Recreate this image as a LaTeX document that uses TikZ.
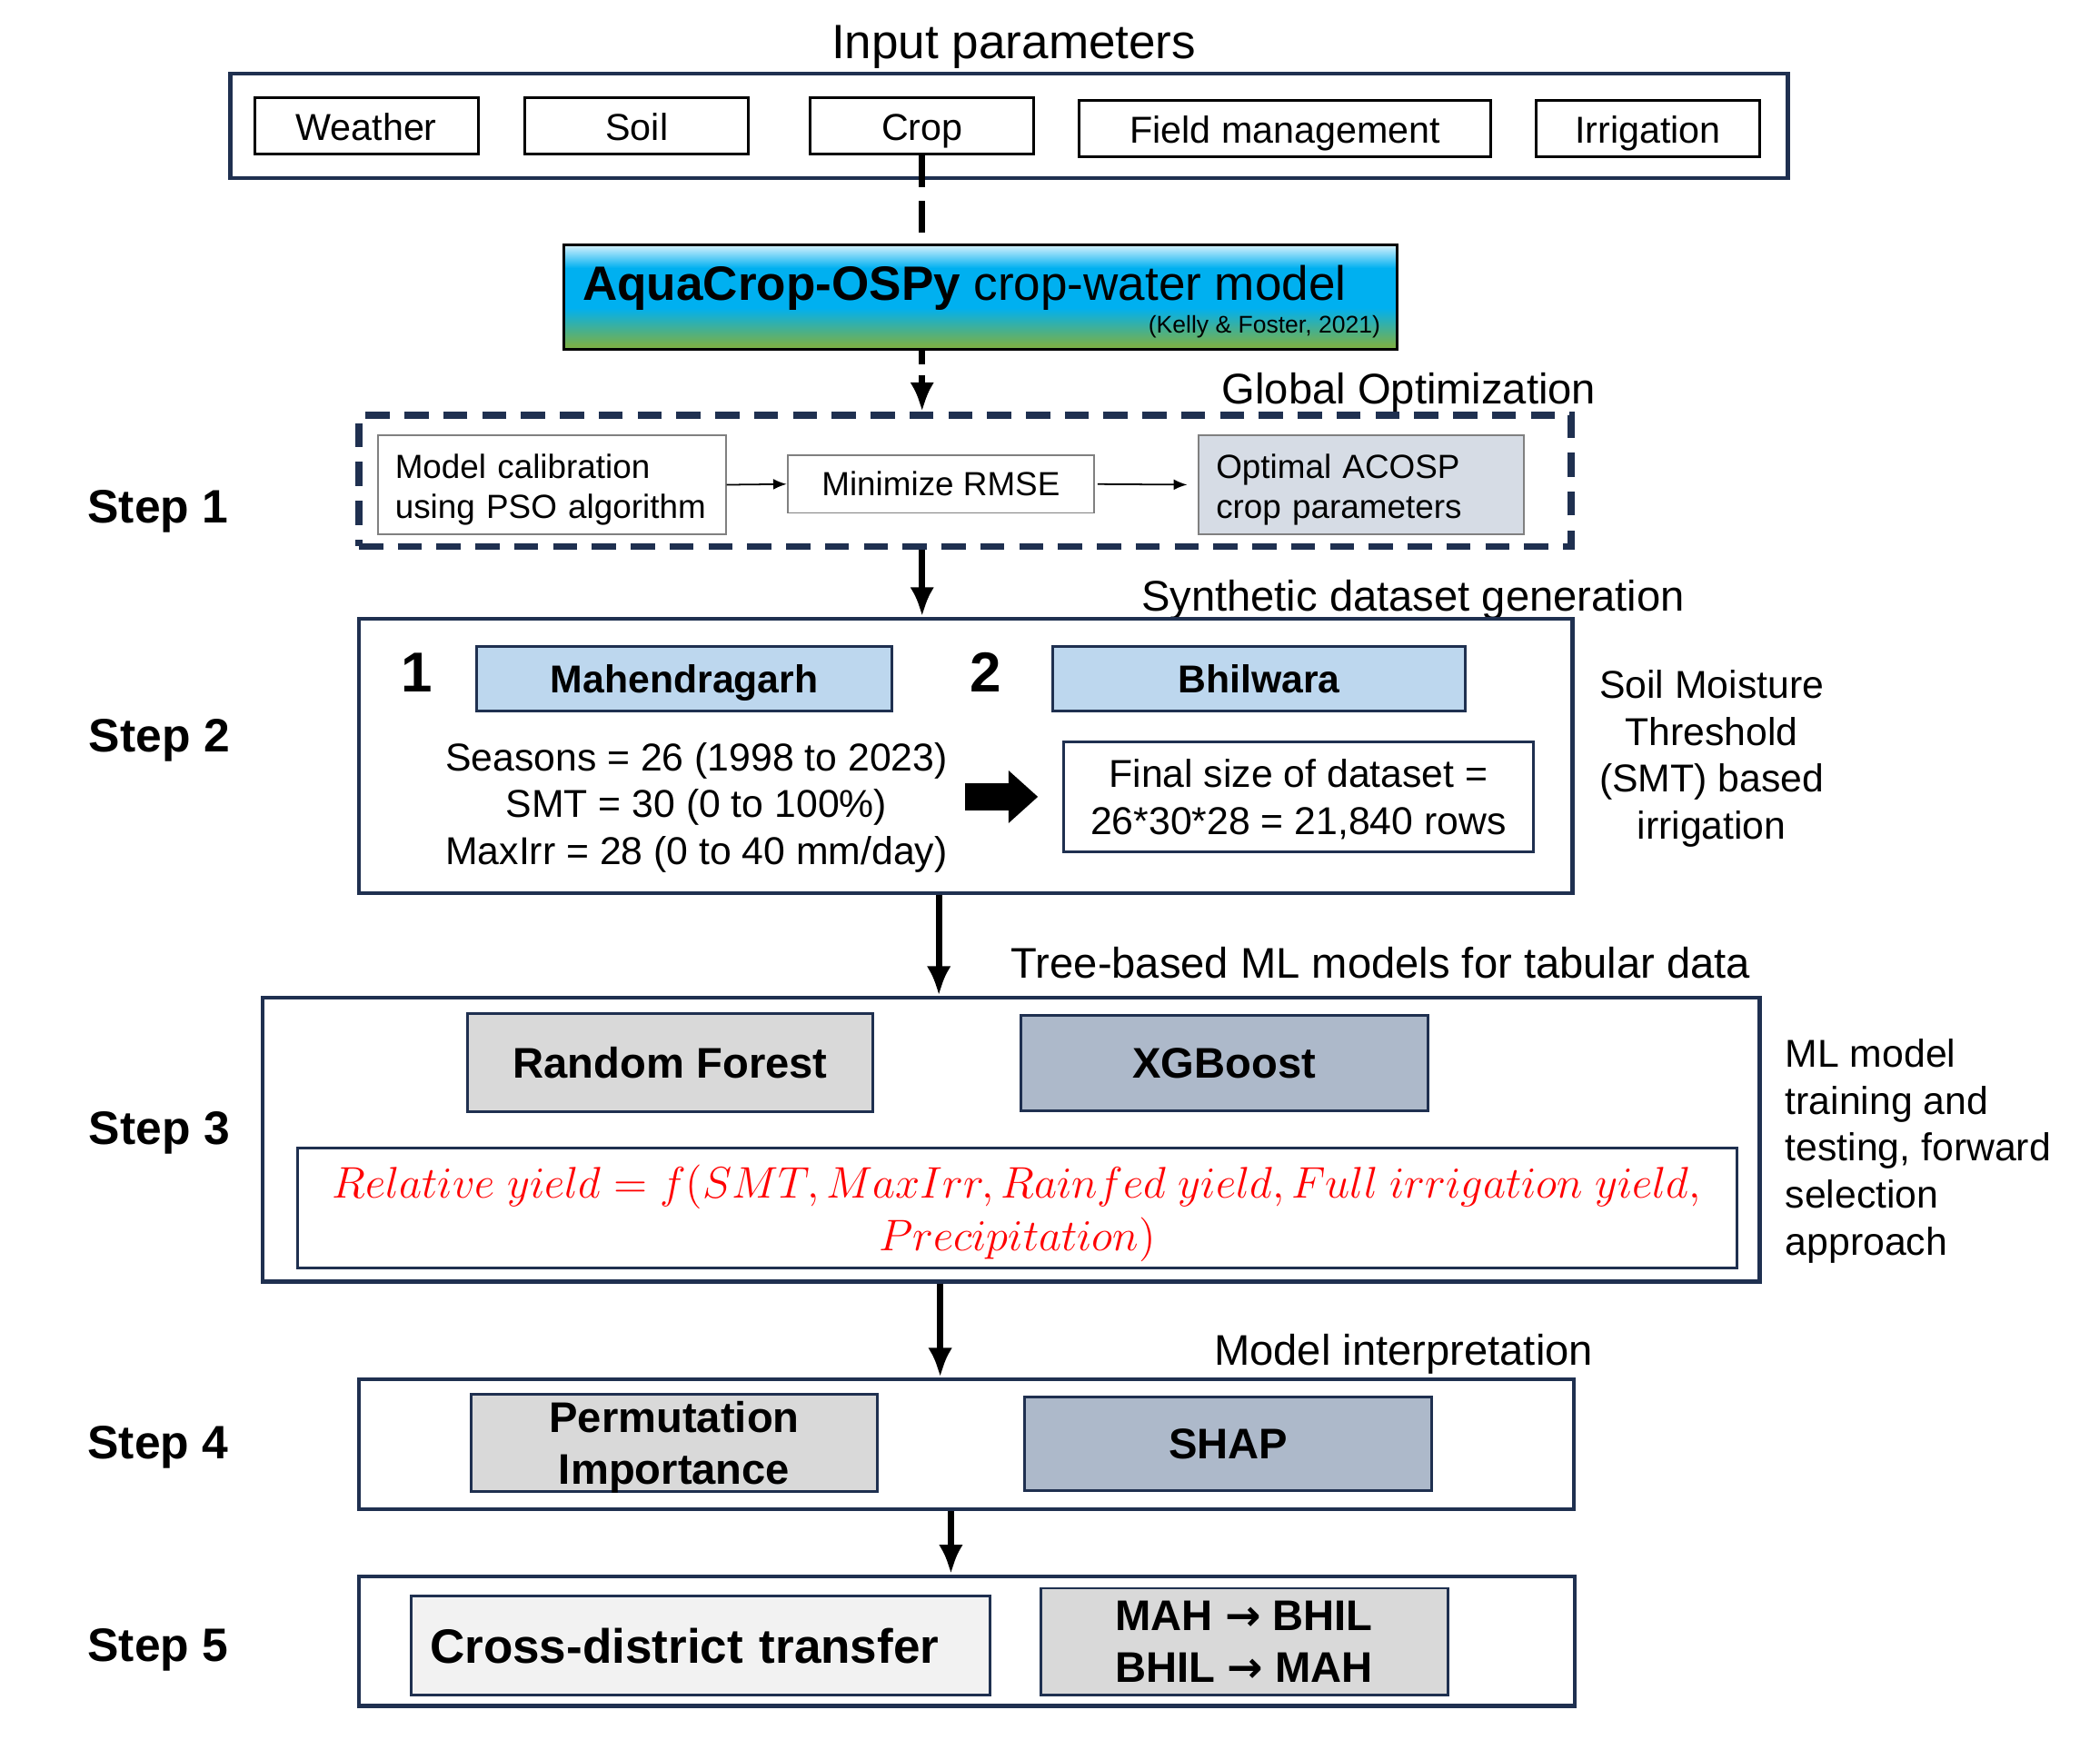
\RequirePackage{fix-cm}
\documentclass[tikz,border=0pt]{standalone}
\usepackage{fontspec}
\setmainfont{Liberation Sans}
\newfontfamily\arrowfont{DejaVu Sans}
\usetikzlibrary{arrows.meta,positioning,calc}
\definecolor{Navy}{HTML}{1F3050}
\definecolor{LightBlue}{HTML}{BDD7EE}
\definecolor{Grey}{HTML}{D9D9D9}
\definecolor{Slate}{HTML}{ADB9CA}
\definecolor{Pale}{HTML}{D6DCE5}
\definecolor{Mist}{HTML}{F2F2F2}
\definecolor{AquaTop}{HTML}{D5F1FD}
\definecolor{AquaBlue}{HTML}{00B0F0}
\definecolor{AquaGreen}{HTML}{78B04A}
\pgfdeclareverticalshading{aquafill}{100bp}{color(0bp)=(AquaGreen); color(27bp)=(AquaGreen); color(45bp)=(AquaBlue); color(64bp)=(AquaBlue); color(75bp)=(AquaTop); color(100bp)=(AquaTop)}
\newcommand{\goes}{{\arrowfont\bfseries →}}
\tikzset{
  >=Latex,
  head/.style={font=\fontsize{16}{19}\selectfont},
  item/.style={draw=black,line width=1pt,minimum width=83.5pt,minimum height=21pt,text height=11pt,text depth=0pt,font=\fontsize{14}{17}\selectfont},
  stage/.style={draw=Navy,line width=1.5pt},
  sub/.style={draw=Navy,line width=1pt,inner sep=1pt,align=center,font=\bfseries\fontsize{16}{19.5}\selectfont},
  plain/.style={draw=gray,line width=.6pt,font=\fontsize{12.5}{15}\selectfont},
  steplab/.style={font=\bfseries\fontsize{17.5}{21}\selectfont},
  body/.style={align=center,font=\fontsize{14.5}{17.5}\selectfont},
  flow/.style={-{Latex[length=11pt,width=9pt]},line width=2.5pt},
  dashflow/.style={line width=2.5pt,dash pattern=on 12pt off 5pt},
  link/.style={-{Latex[length=5pt,width=4pt]},line width=.6pt},
  fat/.style={-{Triangle[length=11pt,width=19pt]},line width=10pt}
}
\begin{document}
\begin{tikzpicture}[x=.5pt,y=-.5pt]
\useasboundingbox (0,0) rectangle (1568,1299);

% inputs
\node[font=\fontsize{18}{21}\selectfont] (title) at (757,35) {Input parameters};
\node[stage,minimum width=581.5pt,minimum height=39pt] (inputs) at (753.5,94) {};
\node[item] (weather) at (273.5,94) {Weather};
\node[item] (soil) at (475.5,94) {Soil};
\node[item] (crop) at (688.5,94) {Crop};
\node[item,minimum width=153.5pt] (field) at (959.5,96) {Field management};
\node[item] (irrig) at (1230.5,96) {Irrigation};

% crop model
\node[draw=black,line width=1pt,shading=aquafill,minimum width=311pt,minimum height=39pt] (aqua) at (732,222) {};
\node[anchor=west,font=\fontsize{18}{21}\selectfont] (aquaname) at (428,215) {\textbf{AquaCrop-OSPy} crop-water model};
\node[anchor=south east,inner sep=2pt,font=\fontsize{9}{11}\selectfont] (cite) at ($(aqua.south east)+(-9,-5)$) {(Kelly \& Foster, 2021)};

% step 1
\node[head] (globlab) at (1052,293) {Global Optimization};
\node[draw=Navy,line width=2.5pt,dash pattern=on 9pt off 5.5pt,minimum width=452.5pt,minimum height=49pt] (optbox) at (720.5,359) {};
\node[plain,text width=117pt,align=left,minimum height=37pt,inner xsep=6.5pt,text depth=14pt] (calib) at (412,362) {Model calibration\\using PSO algorithm};
\node[plain,minimum width=114.5pt,minimum height=21.5pt] (rmse) at (702.5,361.5) {Minimize RMSE};
\node[plain,fill=Pale,text width=108.5pt,align=left,minimum height=37pt,inner xsep=6.5pt,text depth=14pt] (optim) at (1016.5,362) {Optimal ACOSP\\crop parameters};
\node[steplab] (step1) at (118,382) {Step 1};

% step 2
\node[head] (synlab) at (1055,448) {Synthetic dataset generation};
\node[stage,minimum width=453pt,minimum height=102.5pt] (datbox) at (721,564.5) {};
\node[font=\bfseries\fontsize{21}{25}\selectfont] (n1) at (311,502) {1};
\node[sub,fill=LightBlue,minimum width=155pt,minimum height=24pt,text height=10.6pt,text depth=0pt,font=\bfseries\fontsize{14.5}{17}\selectfont] (mahe) at (511,507) {Mahendragarh};
\node[font=\bfseries\fontsize{21}{25}\selectfont] (n2) at (736,502) {2};
\node[sub,fill=LightBlue,minimum width=154pt,minimum height=24pt,text height=10.6pt,text depth=0pt,font=\bfseries\fontsize{14.5}{17}\selectfont] (bhil) at (940,507) {Bhilwara};
\node[body] (params) at (520,603) {Seasons = 26 (1998 to 2023)\\SMT = 30 (0 to 100\%)\\MaxIrr = 28 (0 to 40 mm/day)};
\node[body,draw=Navy,line width=1pt,minimum width=175.5pt,minimum height=41pt,text depth=0pt] (final) at (969.5,595) {Final size of dataset =\\26*30*28 = 21,840 rows};
\node[body] (smtnote) at (1278,566.5) {Soil Moisture\\Threshold\\(SMT) based\\irrigation};
\node[steplab] (step2) at (119,553) {Step 2};

% step 3
\node[head] (treelab) at (1031,719) {Tree-based ML models for tabular data};
\node[stage,minimum width=559pt,minimum height=106pt] (mlbox) at (755,851) {};
\node[sub,fill=Grey,minimum width=151.5pt,minimum height=36.5pt] (rf) at (500.5,793.5) {Random Forest};
\node[sub,fill=Slate,minimum width=152pt,minimum height=35.5pt] (xgb) at (914,794) {XGBoost};
\node[draw=Navy,line width=1pt,minimum width=537.5pt,minimum height=45pt,align=center,text depth=0pt,text=red,font=\fontsize{16.5}{19.5}\selectfont] (formula) at (759.5,902)
  {$Relative\ yield = f(SMT, MaxIrr, Rainfed\ yield, Full\ irrigation\ yield,$\\$Precipitation)$};
\node[body,align=left,anchor=west] (mlnote) at (1326,859.5) {ML model\\training and\\testing, forward\\selection\\approach};
\node[steplab] (step3) at (119,846) {Step 3};

% step 4
\node[head] (interlab) at (1048,1011) {Model interpretation};
\node[stage,minimum width=453.5pt,minimum height=48.5pt] (xaibox) at (721.5,1078.5) {};
\node[sub,fill=Grey,minimum width=151.5pt,minimum height=36.5pt,text depth=0pt] (perm) at (503.5,1077.5) {Permutation\\Importance};
\node[sub,fill=Slate,minimum width=152pt,minimum height=35pt] (shap) at (917,1078) {SHAP};
\node[steplab] (step4) at (118,1081) {Step 4};

% step 5
\node[stage,minimum width=454pt,minimum height=48.5pt] (xferbox) at (722,1225.5) {};
\node[sub,fill=Mist,minimum width=216pt,minimum height=37pt,text width=202pt,inner xsep=7pt,align=left,font=\bfseries\fontsize{18}{21}\selectfont] (cross) at (523,1229) {Cross-district transfer};
\node[sub,fill=Grey,minimum width=152pt,minimum height=40pt] (pairs) at (929,1226) {MAH \goes{} BHIL\\BHIL \goes{} MAH};
\node[steplab] (step5) at (118,1232) {Step 5};

% connectors
\draw[dashflow] (crop.south) -- (aqua.north -| crop.south);
\draw[dashflow,dash pattern=on 5pt off 4pt,-{Latex[length=11pt,width=9pt]}] (aqua.south -| crop.south) -- (optbox.north -| crop.south);
\draw[link] (calib.east) -- (rmse.west);
\draw[link,shorten <=1pt,shorten >=4pt] (rmse.east) -- (optim.west);
\draw[flow] (optbox.south -| crop.south) -- (datbox.north -| crop.south);
\draw[fat,shorten <=3pt,shorten >=9pt] (params.east |- final.west) -- (final.west);
\draw[flow] (datbox.south -| 701,0) -- (mlbox.north -| 701,0);
\draw[flow] (mlbox.south -| 702,0) -- (xaibox.north -| 702,0);
\draw[flow] (xaibox.south -| 710,0) -- (xferbox.north -| 710,0);
\end{tikzpicture}
\end{document}
